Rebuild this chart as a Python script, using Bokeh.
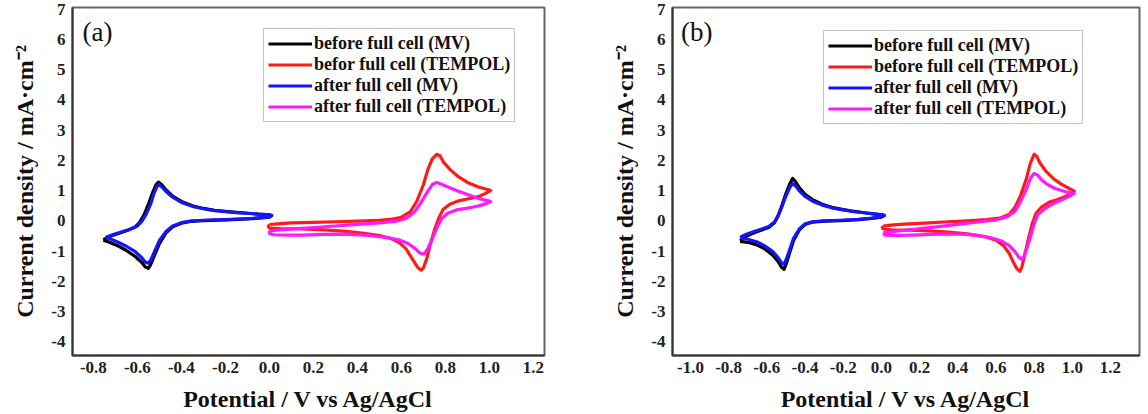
from bokeh.plotting import figure
from bokeh.layouts import row
from bokeh.models import (Range1d, FixedTicker, NumeralTickFormatter, Legend,
                          LegendItem, Label)
from bokeh.embed import file_html
from bokeh.resources import INLINE

# ---- cyclic voltammograms, (potential V vs Ag/AgCl, current density mA/cm^2) ----

# panel (a)
A_MV_BEFORE = [
    (-0.755, -0.62), (-0.72, -0.50), (-0.68, -0.40), (-0.64, -0.30), (-0.61, -0.20),
    (-0.59, -0.05), (-0.57, 0.20), (-0.55, 0.55), (-0.53, 0.95), (-0.515, 1.20),
    (-0.505, 1.28), (-0.49, 1.20), (-0.47, 1.02), (-0.44, 0.82), (-0.40, 0.64),
    (-0.35, 0.50), (-0.30, 0.41), (-0.25, 0.35), (-0.20, 0.31), (-0.15, 0.28),
    (-0.10, 0.25), (-0.05, 0.22), (0.00, 0.20), (0.01, 0.17),
    (0.00, 0.12), (-0.05, 0.09), (-0.10, 0.06), (-0.20, 0.03), (-0.30, 0.01),
    (-0.36, -0.02), (-0.40, -0.08), (-0.44, -0.20), (-0.47, -0.40), (-0.50, -0.75),
    (-0.52, -1.10), (-0.54, -1.45), (-0.55, -1.57), (-0.565, -1.52), (-0.58, -1.38),
    (-0.61, -1.18), (-0.65, -0.98), (-0.69, -0.82), (-0.73, -0.70), (-0.755, -0.64),
]
A_TEMPOL_BEFORE = [
    (0.00, -0.12), (0.05, -0.09), (0.10, -0.07), (0.20, -0.05), (0.30, -0.03),
    (0.40, -0.01), (0.50, 0.02), (0.56, 0.06), (0.60, 0.12), (0.64, 0.30),
    (0.67, 0.65), (0.70, 1.20), (0.72, 1.70), (0.74, 2.05), (0.76, 2.20),
    (0.775, 2.15), (0.79, 1.95), (0.82, 1.70), (0.86, 1.45), (0.90, 1.27),
    (0.95, 1.12), (1.00, 1.02), (1.005, 1.00),
    (0.98, 0.90), (0.95, 0.80), (0.90, 0.72), (0.86, 0.66), (0.82, 0.55),
    (0.79, 0.38), (0.77, 0.10), (0.75, -0.30), (0.73, -0.80), (0.715, -1.25),
    (0.70, -1.55), (0.69, -1.63), (0.675, -1.55), (0.66, -1.38), (0.64, -1.15),
    (0.62, -0.92), (0.59, -0.72), (0.55, -0.58), (0.50, -0.49), (0.43, -0.41),
    (0.35, -0.35), (0.25, -0.30), (0.15, -0.27), (0.05, -0.26), (0.00, -0.24),
    (-0.005, -0.18), (0.00, -0.12),
]
A_MV_AFTER = [
    (-0.745, -0.55), (-0.71, -0.45), (-0.67, -0.36), (-0.63, -0.27), (-0.60, -0.17),
    (-0.58, -0.02), (-0.56, 0.22), (-0.54, 0.55), (-0.525, 0.90), (-0.512, 1.12),
    (-0.502, 1.20), (-0.49, 1.13), (-0.47, 0.97), (-0.44, 0.78), (-0.40, 0.61),
    (-0.35, 0.48), (-0.30, 0.40), (-0.25, 0.34), (-0.20, 0.30), (-0.15, 0.27),
    (-0.10, 0.25), (-0.05, 0.22), (0.00, 0.20), (0.01, 0.18),
    (0.00, 0.13), (-0.05, 0.10), (-0.10, 0.07), (-0.20, 0.04), (-0.30, 0.02),
    (-0.36, -0.01), (-0.40, -0.06), (-0.44, -0.17), (-0.47, -0.35), (-0.50, -0.65),
    (-0.52, -0.98), (-0.54, -1.30), (-0.552, -1.40), (-0.565, -1.36), (-0.58, -1.22),
    (-0.61, -1.02), (-0.65, -0.84), (-0.69, -0.70), (-0.72, -0.61), (-0.745, -0.56),
]
A_TEMPOL_AFTER = [
    (0.00, -0.33), (0.05, -0.30), (0.10, -0.27), (0.20, -0.22), (0.30, -0.17),
    (0.40, -0.12), (0.50, -0.07), (0.57, -0.02), (0.62, 0.08), (0.66, 0.30),
    (0.69, 0.62), (0.72, 0.98), (0.74, 1.20), (0.76, 1.27), (0.78, 1.22),
    (0.80, 1.15), (0.85, 1.00), (0.90, 0.87), (0.95, 0.74), (1.00, 0.65),
    (1.005, 0.63),
    (0.98, 0.56), (0.95, 0.49), (0.90, 0.42), (0.85, 0.36), (0.81, 0.25),
    (0.78, 0.05), (0.76, -0.25), (0.74, -0.60), (0.72, -0.92), (0.705, -1.08),
    (0.695, -1.10), (0.68, -1.04), (0.66, -0.90), (0.63, -0.75), (0.59, -0.63),
    (0.53, -0.55), (0.45, -0.48), (0.35, -0.44), (0.25, -0.45), (0.15, -0.47),
    (0.08, -0.47), (0.02, -0.46), (0.00, -0.42), (0.00, -0.33),
]

# panel (b)
B_MV_BEFORE = [
    (-0.74, -0.66), (-0.71, -0.52), (-0.67, -0.40), (-0.63, -0.31), (-0.59, -0.22),
    (-0.56, -0.06), (-0.54, 0.18), (-0.52, 0.52), (-0.50, 0.90), (-0.48, 1.22),
    (-0.465, 1.40), (-0.45, 1.30), (-0.43, 1.10), (-0.40, 0.88), (-0.36, 0.70),
    (-0.31, 0.55), (-0.26, 0.45), (-0.20, 0.37), (-0.14, 0.31), (-0.08, 0.26),
    (-0.03, 0.22), (0.01, 0.19), (0.015, 0.17),
    (0.00, 0.12), (-0.05, 0.08), (-0.12, 0.04), (-0.21, 0.01), (-0.30, -0.01),
    (-0.36, -0.04), (-0.40, -0.12), (-0.43, -0.30), (-0.46, -0.65), (-0.48, -1.05),
    (-0.50, -1.45), (-0.51, -1.60), (-0.525, -1.52), (-0.54, -1.35), (-0.57, -1.13),
    (-0.61, -0.93), (-0.65, -0.80), (-0.70, -0.71), (-0.74, -0.68),
]
B_TEMPOL_BEFORE = [
    (0.01, -0.17), (0.05, -0.14), (0.12, -0.11), (0.25, -0.07), (0.35, -0.03),
    (0.45, 0.00), (0.55, 0.04), (0.62, 0.09), (0.67, 0.22), (0.70, 0.45),
    (0.73, 0.85), (0.76, 1.40), (0.78, 1.90), (0.80, 2.20), (0.815, 2.12),
    (0.83, 1.92), (0.86, 1.65), (0.90, 1.40), (0.94, 1.22), (0.98, 1.08),
    (1.01, 0.98),
    (0.99, 0.88), (0.96, 0.80), (0.92, 0.70), (0.88, 0.62), (0.84, 0.46),
    (0.81, 0.25), (0.79, -0.10), (0.77, -0.60), (0.75, -1.15), (0.735, -1.55),
    (0.725, -1.67), (0.71, -1.58), (0.69, -1.35), (0.67, -1.08), (0.64, -0.82),
    (0.60, -0.64), (0.54, -0.52), (0.45, -0.43), (0.35, -0.37), (0.25, -0.33),
    (0.15, -0.31), (0.05, -0.30), (0.01, -0.27), (0.005, -0.22), (0.01, -0.17),
]
B_MV_AFTER = [
    (-0.74, -0.55), (-0.71, -0.45), (-0.67, -0.36), (-0.63, -0.28), (-0.59, -0.19),
    (-0.56, -0.04), (-0.54, 0.18), (-0.52, 0.48), (-0.50, 0.82), (-0.48, 1.10),
    (-0.465, 1.23), (-0.45, 1.16), (-0.43, 0.99), (-0.40, 0.81), (-0.36, 0.65),
    (-0.31, 0.52), (-0.26, 0.43), (-0.20, 0.36), (-0.14, 0.30), (-0.08, 0.26),
    (-0.03, 0.22), (0.01, 0.19), (0.015, 0.18),
    (0.00, 0.13), (-0.05, 0.09), (-0.12, 0.05), (-0.21, 0.02), (-0.30, 0.00),
    (-0.36, -0.03), (-0.40, -0.10), (-0.43, -0.27), (-0.46, -0.58), (-0.48, -0.95),
    (-0.50, -1.30), (-0.51, -1.43), (-0.525, -1.37), (-0.54, -1.22), (-0.57, -1.01),
    (-0.61, -0.83), (-0.65, -0.70), (-0.70, -0.61), (-0.74, -0.56),
]
B_TEMPOL_AFTER = [
    (0.01, -0.40), (0.08, -0.34), (0.18, -0.27), (0.30, -0.19), (0.42, -0.10),
    (0.52, -0.03), (0.60, 0.03), (0.66, 0.14), (0.70, 0.32), (0.73, 0.65),
    (0.76, 1.05), (0.78, 1.40), (0.80, 1.57), (0.82, 1.50), (0.84, 1.35),
    (0.87, 1.20), (0.91, 1.07), (0.96, 0.97), (1.01, 0.90),
    (0.98, 0.80), (0.94, 0.68), (0.90, 0.57), (0.86, 0.42), (0.82, 0.22),
    (0.80, -0.10), (0.78, -0.55), (0.76, -0.95), (0.745, -1.20), (0.735, -1.27),
    (0.72, -1.20), (0.70, -1.02), (0.67, -0.82), (0.63, -0.67), (0.57, -0.55),
    (0.50, -0.48), (0.42, -0.44), (0.30, -0.44), (0.16, -0.47), (0.08, -0.48),
    (0.02, -0.47), (0.01, -0.40),
]

LABELS_A = ["before full cell (MV)", "befor full cell (TEMPOL)",
            "after full cell (MV)", "after full cell (TEMPOL)"]
LABELS_B = ["before full cell (MV)", "before full cell (TEMPOL)",
            "after full cell (MV)", "after full cell (TEMPOL)"]
COLORS = ["#000000", "#ff1a1a", "#1414ff", "#ff1aff"]

X_TICKS_A = [-0.8, -0.6, -0.4, -0.2, 0.0, 0.2, 0.4, 0.6, 0.8, 1.0, 1.2]
X_TICKS_B = [-1.0, -0.8, -0.6, -0.4, -0.2, 0.0, 0.2, 0.4, 0.6, 0.8, 1.0, 1.2]
Y_TICKS = [-4, -3, -2, -1, 0, 1, 2, 3, 4, 5, 6, 7]

SERIF = "Liberation Serif"


def panel(curves, labels, tag, x_range, x_ticks, width, border_left,
          border_right, legend_xy):
    p = figure(width=width, height=414, output_backend="svg", toolbar_location=None,
               x_range=Range1d(*x_range), y_range=Range1d(-4.45, 7.05),
               min_border_left=border_left, min_border_right=border_right,
               min_border_top=7, min_border_bottom=58)
    p.grid.visible = False
    p.outline_line_color = "#666666"
    p.outline_line_width = 2
    p.background_fill_color = "white"
    p.border_fill_color = "white"

    items = []
    for pts, lab, col in zip(curves, labels, COLORS):
        xs = [e for e, _ in pts]
        ys = [j for _, j in pts]
        r = p.line(xs, ys, line_color=col, line_width=3.2, line_join="round")
        items.append(LegendItem(label=lab, renderers=[r]))

    for ax in (p.xaxis[0], p.yaxis[0]):
        ax.axis_line_color = "#333333"
        ax.axis_line_width = 2
        ax.major_tick_line_color = None
        ax.minor_tick_line_color = None
        ax.major_label_text_font = SERIF
        ax.major_label_text_font_style = "bold"
        ax.major_label_text_font_size = "17px"
        ax.major_label_text_color = "#222222"
        ax.axis_label_text_font = SERIF
        ax.axis_label_text_font_style = "bold"
        ax.axis_label_text_font_size = "24px"
        ax.axis_label_text_color = "#111111"

    p.xaxis.ticker = FixedTicker(ticks=x_ticks)
    p.xaxis.formatter = NumeralTickFormatter(format="0.0")
    p.xaxis.major_label_standoff = 0
    p.xaxis.axis_label = "Potential / V vs Ag/AgCl"
    p.xaxis.axis_label_standoff = 10

    p.yaxis.ticker = FixedTicker(ticks=Y_TICKS)
    p.yaxis.formatter = NumeralTickFormatter(format="0")
    p.yaxis.major_label_standoff = 1
    p.yaxis.axis_label = "Current density / mA\u00b7cm\u207b\u00b2"
    p.yaxis.axis_label_standoff = 10

    legend = Legend(items=items, location=legend_xy,
                    border_line_color="#8a8a8a", border_line_width=1.5,
                    background_fill_color="white", background_fill_alpha=1,
                    label_text_font=SERIF, label_text_font_style="bold",
                    label_text_font_size="18px", label_text_color="#111111",
                    glyph_width=44, glyph_height=19, label_height=19,
                    label_standoff=2, spacing=0, padding=4, margin=0)
    p.add_layout(legend)

    p.add_layout(Label(x=x_range[0] + 0.045, y=6.25, text=tag,
                       text_font=SERIF, text_font_size="27px",
                       text_baseline="middle", text_color="#111111"))
    return p


pa = panel([A_MV_BEFORE, A_TEMPOL_BEFORE, A_MV_AFTER, A_TEMPOL_AFTER],
           LABELS_A, "(a)", (-0.895, 1.25), X_TICKS_A,
           width=590, border_left=72, border_right=46, legend_xy=(191, 233))
pb = panel([B_MV_BEFORE, B_TEMPOL_BEFORE, B_MV_AFTER, B_TEMPOL_AFTER],
           LABELS_B, "(b)", (-1.094, 1.352), X_TICKS_B,
           width=558, border_left=82, border_right=9, legend_xy=(151, 231))

layout = row(pa, pb)
open("out.html", "w").write(file_html(layout, INLINE))
